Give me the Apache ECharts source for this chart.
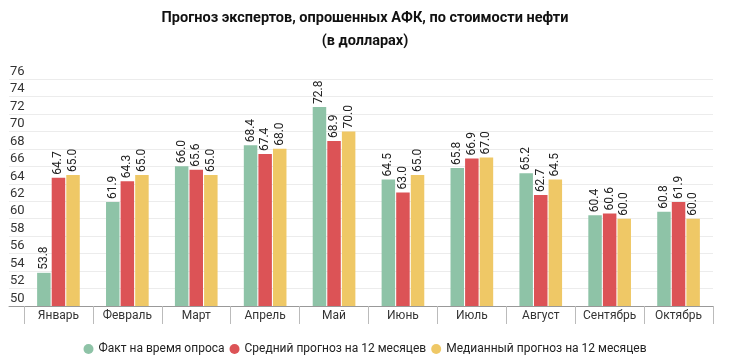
<!DOCTYPE html>
<html><head><meta charset="utf-8">
<script src="https://cdn.jsdelivr.net/npm/echarts@6/dist/echarts.min.js"></script>
<style>html,body{margin:0;padding:0;background:#fff}#c{width:730px;height:361px}</style>
</head><body><div id="c"></div>
<script>
const categories = ['Январь','Февраль','Март','Апрель','Май','Июнь','Июль','Август','Сентябрь','Октябрь'];
const seriesNames = ['Факт на время опроса','Средний прогноз на 12 месяцев','Медианный прогноз на 12 месяцев'];
const fact = [53.8, 61.9, 66.0, 68.4, 72.8, 64.5, 65.8, 65.2, 60.4, 60.8];
const avgForecast = [64.7, 64.3, 65.6, 67.4, 68.9, 63.0, 66.9, 62.7, 60.6, 61.9];
const medForecast = [65.0, 65.0, 65.0, 68.0, 70.0, 65.0, 67.0, 64.5, 60.0, 60.0];
const colors = ['#8ec3a7', '#dc5356', '#efc866'];
const FONT = 'Roboto';

const chart = echarts.init(document.getElementById('c'), null, {renderer: 'canvas'});
const labelOpt = {
  show: true, position: 'top', rotate: 90, align: 'left', verticalAlign: 'middle',
  distance: 3, fontSize: 12, color: '#222', fontFamily: FONT,
  formatter: p => p.value.toFixed(1)
};
const mk = (name, data, i) => ({
  name, type: 'bar', data, xAxisIndex: 0, yAxisIndex: 0,
  barWidth: 13.5, barGap: '8%',
  itemStyle: {color: colors[i]},
  label: labelOpt
});
chart.setOption({
  animation: false,
  textStyle: {fontFamily: FONT},
  title: {
    text: 'Прогноз экспертов, опрошенных АФК, по стоимости нефти\n(в долларах)',
    left: 'center', top: 2,
    textStyle: {fontFamily: FONT, fontSize: 14.5, fontWeight: 'bold', color: '#111', lineHeight: 23}
  },
  legend: {
    data: seriesNames, top: 338, left: 'center', icon: 'circle',
    itemWidth: 10, itemHeight: 10, itemGap: 5,
    textStyle: {fontFamily: FONT, fontSize: 12, color: '#222'}
  },
  grid: [
    {left: 24, right: 17, top: 79, bottom: 55},
    {left: 9, right: 17, top: 79, bottom: 55}
  ],
  xAxis: [
    {type: 'category', data: categories, gridIndex: 0,
     axisLine: {show: false},
     axisTick: {show: true, length: 18, interval: 0, alignWithLabel: false, lineStyle: {color: '#bbb'}},
     axisLabel: {interval: 0, fontFamily: FONT, fontSize: 12, color: '#333', margin: 4}},
    {type: 'category', data: categories, gridIndex: 1,
     axisLine: {show: true, lineStyle: {color: '#999', width: 1}},
     axisTick: {show: false}, axisLabel: {show: false}}
  ],
  yAxis: [
    {type: 'value', gridIndex: 0, min: 50, max: 76, interval: 2,
     axisLabel: {show: false}, splitLine: {show: false}, axisLine: {show: false}, axisTick: {show: false}},
    {type: 'value', gridIndex: 1, min: 50, max: 76, interval: 2,
     axisLine: {show: false}, axisTick: {show: false},
     splitLine: {show: true, lineStyle: {color: '#ececec', width: 1}},
     axisLabel: {inside: true, margin: 1, align: 'left', verticalAlign: 'bottom',
                 padding: [0, 0, 1, 0], fontFamily: FONT, fontSize: 13, color: '#333'}}
  ],
  series: [
    mk(seriesNames[0], fact, 0),
    mk(seriesNames[1], avgForecast, 1),
    mk(seriesNames[2], medForecast, 2)
  ]
});
</script></body></html>
